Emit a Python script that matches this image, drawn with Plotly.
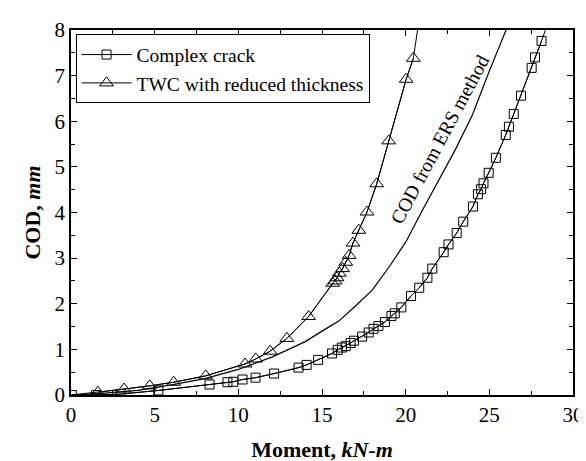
import plotly.graph_objects as go

# Complex crack (squares)
cc_x = [0.05, 1.5, 2.97, 5.22, 8.28, 9.35, 9.7, 10.25, 11.03, 12.14, 13.6, 14.08, 14.77, 15.6, 15.94,
        16.19, 16.42, 16.71, 16.91, 17.4, 17.79, 18.08, 18.37, 18.76, 19.15, 19.35, 19.74, 20.32, 20.81,
        21.3, 21.59, 22.27, 22.56, 23.05, 23.44, 24.02, 24.32, 24.51, 24.65, 24.96, 25.39, 25.98, 26.17,
        26.46, 26.89, 27.53, 27.73, 28.12]
cc_y = [0.0, 0.0, 0.02, 0.1, 0.23, 0.28, 0.29, 0.34, 0.38, 0.47, 0.6, 0.66, 0.77, 0.91, 0.99,
        1.04, 1.07, 1.14, 1.19, 1.28, 1.37, 1.45, 1.51, 1.6, 1.73, 1.79, 1.92, 2.17, 2.35,
        2.57, 2.77, 3.13, 3.3, 3.55, 3.8, 4.13, 4.4, 4.51, 4.64, 4.87, 5.2, 5.7, 5.88,
        6.16, 6.56, 7.17, 7.4, 7.76]
cc_line_x = cc_x + [28.45]
cc_line_y = cc_y + [8.1]

# TWC with reduced thickness (triangles)
twc_x = [1.61, 3.17, 4.7, 6.14, 8.05, 10.4, 11.04, 11.9, 12.9, 14.2, 15.64, 15.78, 15.9, 16.03,
         16.23, 16.42, 16.62, 16.85, 17.2, 17.69, 18.27, 18.99, 20.03, 20.46]
twc_y = [0.06, 0.13, 0.2, 0.28, 0.42, 0.68, 0.79, 0.96, 1.24, 1.72, 2.45, 2.5, 2.57, 2.67,
         2.77, 2.91, 3.06, 3.33, 3.61, 4.01, 4.63, 5.57, 6.92, 7.38]
twc_line_x = [0.0] + twc_x + [20.75]
twc_line_y = [0.0] + twc_y + [8.1]

# COD from ERS method (line only)
ers_x = [0, 2, 4, 6, 8, 10, 12, 14, 15, 16, 17, 18, 19, 20, 21, 22, 23, 24, 25, 26, 26.2]
ers_y = [0, 0.04, 0.1, 0.22, 0.36, 0.56, 0.83, 1.17, 1.4, 1.62, 1.95, 2.3, 2.8, 3.35, 4.05,
         4.72, 5.4, 6.15, 7.1, 8.0, 8.2]

x_ticks = [0, 5, 10, 15, 20, 25, 30]
y_ticks = [0, 1, 2, 3, 4, 5, 6, 7, 8]

SERIF = "Liberation Serif, Times New Roman, serif"

fig = go.Figure()

fig.add_trace(go.Scatter(x=cc_line_x, y=cc_line_y, mode="lines", line=dict(color="black", width=1),
                         showlegend=False, hoverinfo="skip"))
fig.add_trace(go.Scatter(x=twc_line_x, y=twc_line_y, mode="lines", line=dict(color="black", width=1),
                         showlegend=False, hoverinfo="skip"))
fig.add_trace(go.Scatter(x=ers_x, y=ers_y, mode="lines", line=dict(color="black", width=1.2),
                         showlegend=False))

fig.add_trace(go.Scatter(x=cc_x, y=cc_y, mode="lines+markers", name="Complex crack",
                         line=dict(color="black", width=1),
                         marker=dict(symbol="square-open", size=9, color="black", line=dict(width=1))))
fig.add_trace(go.Scatter(x=twc_x, y=twc_y, mode="lines+markers", name="TWC with reduced thickness",
                         line=dict(color="black", width=1),
                         marker=dict(symbol="triangle-up-open", size=12, color="black", line=dict(width=1))))

fig.add_annotation(x=22.05, y=5.6, text="COD from ERS method", showarrow=False, textangle=-62,
                   font=dict(family=SERIF, size=19.5, color="black"))

axis_common = dict(showline=True, linecolor="black", linewidth=1.5, mirror="allticks",
                   ticks="inside", tickcolor="black", ticklen=6, tickwidth=1,
                   showgrid=False, zeroline=False,
                   tickfont=dict(family=SERIF, size=21, color="black"))

fig.update_xaxes(range=[0, 30], tickvals=x_ticks, ticktext=[str(v) for v in x_ticks],
                 minor=dict(ticks="inside", dtick=2.5, ticklen=4, tickcolor="black"),
                 title=dict(text="<b>Moment, <i>kN-m</i></b>", font=dict(family=SERIF, size=22, color="black"),
                            standoff=16),
                 **axis_common)
fig.update_yaxes(range=[0, 8], tickvals=y_ticks, ticktext=[str(v) for v in y_ticks],
                 minor=dict(ticks="inside", dtick=0.5, ticklen=4, tickcolor="black"),
                 title=dict(text="<b>COD, <i>mm</i></b>", font=dict(family=SERIF, size=22, color="black"),
                            standoff=8),
                 **axis_common)

fig.update_layout(
    width=586, height=461,
    margin=dict(l=62.5, r=10.5, t=20.7, b=64),
    plot_bgcolor="white", paper_bgcolor="white",
    font=dict(family=SERIF, color="black"),
    legend=dict(x=0.009, y=0.988, xanchor="left", yanchor="top",
                bordercolor="black", borderwidth=1, bgcolor="white",
                font=dict(family=SERIF, size=19.5, color="black"),
                itemwidth=50, tracegroupgap=0),
    showlegend=True,
)

fig.write_html("out.html")
